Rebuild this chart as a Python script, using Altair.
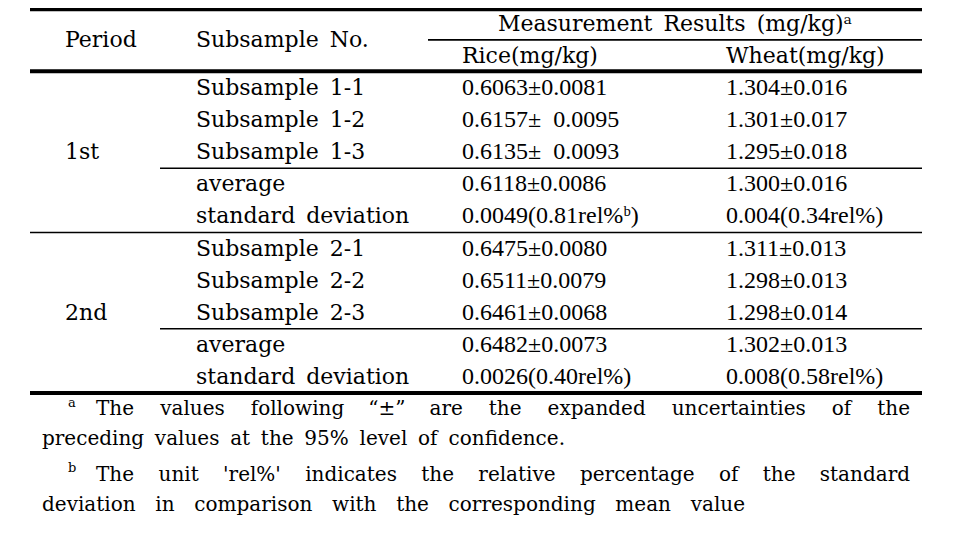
import altair as alt
import pandas as pd

# ---------------- data ----------------
periods = ["1st", "2nd"]
row_labels = ["Subsample 1-1", "Subsample 1-2", "Subsample 1-3", "average", "standard deviation",
              "Subsample 2-1", "Subsample 2-2", "Subsample 2-3", "average", "standard deviation"]
rice = ["0.6063±0.0081", "0.6157±\u20020.0095", "0.6135±\u20020.0093", "0.6118±0.0086", "0.0049(0.81rel%ᵇ)",
        "0.6475±0.0080", "0.6511±0.0079", "0.6461±0.0068", "0.6482±0.0073", "0.0026(0.40rel%)"]
wheat = ["1.304±0.016", "1.301±0.017", "1.295±0.018", "1.300±0.016", "0.004(0.34rel%)",
         "1.311±0.013", "1.298±0.013", "1.298±0.014", "1.302±0.013", "0.008(0.58rel%)"]
header_top = "Measurement Results (mg/kg)ᵃ"
header_cols = ["Period", "Subsample No.", "Rice(mg/kg)", "Wheat(mg/kg)"]
footnote_lines = [
    "The values following “±” are the expanded uncertainties of the",
    "preceding values at the 95% level of confidence.",
    "The unit 'rel%' indicates the relative percentage of the standard",
    "deviation in comparison with the corresponding mean value",
]
footnote_marks = ["a", "b"]

# ---------------- layout ----------------
FONT = "Liberation Serif"
FONT_W = "DejaVu Serif"
FS = 24
FS_W = 22
FS_NOTE = 20
ROW0 = 88.0      # image y of body row 0
ROW_H = 32.1     # image px per row
W, H = 956, 528
Y_DOM = [(8 - ROW0) / ROW_H, (8 + H - ROW0) / ROW_H]
COL_X = {"period": 65, "sub": 196, "rice": 462, "wheat": 726}
TABLE_X = (30, 922)
SUB_RULE_X = 160
HEAD_RULE_X = 428

def sp(s):
    return s.replace(" ", "\u2002")

# approximate DejaVu Serif advance widths (em)
DW = {' ': .318, '%': .95, "'": .275, '.': .318, '“': .415, '”': .415, '±': .838, 'T': .675}
DW.update({d: .636 for d in "0123456789"})
DW.update(dict(zip("abcdefghijklmnopqrstuvwxyz",
                   [.596, .640, .560, .640, .592, .370, .640, .644, .320, .310, .606, .320, .948,
                    .644, .602, .640, .640, .478, .513, .402, .644, .565, .855, .565, .565, .527])))

def width(word, fs):
    return sum(DW.get(c, .6) for c in word) * fs

def justify(line, x0, x1, fs):
    """first word left-aligned at x0, last right-aligned at x1, others centred."""
    words = line.split(" ")
    ws = [width(w, fs) for w in words]
    gap = (x1 - x0 - sum(ws)) / (len(words) - 1)
    out, x = [], x0
    n = len(words)
    for k, (w, wd) in enumerate(zip(words, ws)):
        if k == 0:
            out.append((w, x, "left"))
        elif k == n - 1:
            out.append((w, x1, "right"))
        else:
            out.append((w, x + wd / 2, "center"))
        x += wd + gap
    return out

# ---------------- tables ----------------
nums, words = [], []
for i, (lab, r, wv) in enumerate(zip(row_labels, rice, wheat)):
    words.append({"x": COL_X["sub"], "row": i, "t": sp(lab)})
    nums.append({"x": COL_X["rice"], "row": i, "t": r})
    nums.append({"x": COL_X["wheat"], "row": i, "t": wv})
for p, r in zip(periods, [2, 7]):
    words.append({"x": COL_X["period"], "row": r, "t": p})
words.append({"x": COL_X["period"], "row": -1.5, "t": header_cols[0]})
words.append({"x": COL_X["sub"], "row": -1.5, "t": sp(header_cols[1])})
words.append({"x": COL_X["rice"], "row": -1, "t": header_cols[2]})
words.append({"x": COL_X["wheat"], "row": -1, "t": header_cols[3]})
nums_df = pd.DataFrame(nums)
words_df = pd.DataFrame(words)

head_df = pd.DataFrame([{"x": (HEAD_RULE_X + TABLE_X[1]) / 2, "row": -2, "t": sp(header_top)}])

note_rows = [10.0, 10.93, 12.05, 12.98]
note_spans = [(96, 910), (42, 565), (96, 910), (42, 745)]
notes = []
for line, row, (a, b) in zip(footnote_lines, note_rows, note_spans):
    for w, x, al in justify(line, a, b, FS_NOTE):
        notes.append({"x": x, "row": row, "t": w, "al": al})
notes_df = pd.DataFrame(notes)
marks_df = pd.DataFrame([{"x": 68, "row": note_rows[0] - 0.2, "t": footnote_marks[0]},
                         {"x": 68, "row": note_rows[2] - 0.2, "t": footnote_marks[1]}])

rules_df = pd.DataFrame([
    {"x": TABLE_X[0], "x2": TABLE_X[1], "row": -2.45, "w": 4},
    {"x": HEAD_RULE_X, "x2": TABLE_X[1], "row": -1.5, "w": 1.6},
    {"x": TABLE_X[0], "x2": TABLE_X[1], "row": -0.52, "w": 4},
    {"x": SUB_RULE_X, "x2": TABLE_X[1], "row": 2.5, "w": 1.6},
    {"x": TABLE_X[0], "x2": TABLE_X[1], "row": 4.5, "w": 1.6},
    {"x": SUB_RULE_X, "x2": TABLE_X[1], "row": 7.5, "w": 1.6},
    {"x": TABLE_X[0], "x2": TABLE_X[1], "row": 9.5, "w": 4},
])

xs = alt.Scale(domain=[8, 8 + W], nice=False, zero=False)
ys = alt.Scale(domain=Y_DOM, nice=False, zero=False, reverse=True)
X = alt.X("x:Q", scale=xs, axis=None)
Y = alt.Y("row:Q", scale=ys, axis=None)

rules = alt.Chart(rules_df).mark_rule(color="#000").encode(
    x=X, x2="x2:Q", y=Y, strokeWidth=alt.StrokeWidth("w:Q", scale=None))

text_nums = alt.Chart(nums_df).mark_text(font=FONT, fontSize=FS, align="left", baseline="middle",
                                         color="#000").encode(x=X, y=Y, text="t:N")
text_words = alt.Chart(words_df).mark_text(font=FONT_W, fontSize=FS_W, align="left", baseline="middle",
                                           color="#000").encode(x=X, y=Y, text="t:N")
text_head = alt.Chart(head_df).mark_text(font=FONT_W, fontSize=FS_W, align="center", baseline="middle",
                                         color="#000").encode(x=X, y=Y, text="t:N")
note_layers = [
    alt.Chart(notes_df[notes_df["al"] == al]).mark_text(
        font=FONT_W, fontSize=FS_NOTE, align=al, baseline="middle", color="#000"
    ).encode(x=X, y=Y, text="t:N")
    for al in ["left", "center", "right"]
]
text_marks = alt.Chart(marks_df).mark_text(font=FONT_W, fontSize=13, align="left", baseline="middle",
                                           color="#000").encode(x=X, y=Y, text="t:N")

chart = alt.layer(rules, text_nums, text_words, text_head, *note_layers, text_marks).properties(
    width=W, height=H, padding=0, autosize=alt.AutoSizeParams(type="none"), background="white"
).configure_view(stroke=None)

chart.save("out.html", embed_options={"renderer": "svg", "actions": False})
